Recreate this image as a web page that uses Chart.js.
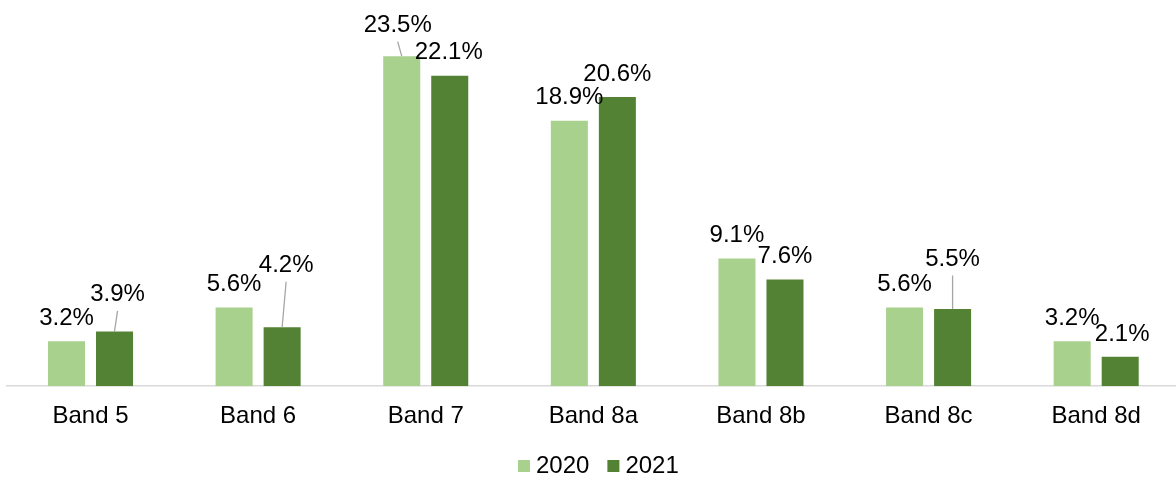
<!DOCTYPE html>
<html><head><meta charset="utf-8">
<script src="https://cdn.jsdelivr.net/npm/chart.js@4/dist/chart.umd.min.js"></script>
<style>
html,body{margin:0;padding:0;background:#fff;overflow:hidden;width:1176px;height:477px}
#wrap{position:absolute;left:0;top:0;width:1180px;height:477px}
</style>
</head><body><div id="wrap"><canvas id="c"></canvas></div>
<script>
// ---- data ----
const categories = ['Band 5','Band 6','Band 7','Band 8a','Band 8b','Band 8c','Band 8d'];
const seriesNames = ['2020','2021'];
const values2020 = [3.2, 5.6, 23.5, 18.9, 9.1, 5.6, 3.2];
const values2021 = [3.9, 4.2, 22.1, 20.6, 7.6, 5.5, 2.1];

// ---- label placement (offsets from default position above each bar) ----
const labelShift = [
  [[0,0],[0,0],[-4,-8],[0,0],[0,0],[0,0],[0,0]],
  [[3,-14],[4,-39],[-1,0],[0,0],[0,0],[0,-27],[2,1]]
];
const leaderOn = [
  [false,false,true,false,false,false,false],
  [true,true,false,false,false,true,false]
];

const FONT = "'Liberation Sans', Arial, sans-serif";
const colors = ['#A9D18E', '#548235'];

const labelPlugin = {
  id: 'barLabels',
  afterDatasetsDraw(chart) {
    const ctx = chart.ctx;
    ctx.save();
    ctx.font = '24px ' + FONT;
    ctx.textAlign = 'center';
    ctx.textBaseline = 'middle';
    chart.data.datasets.forEach((ds, di) => {
      const meta = chart.getDatasetMeta(di);
      meta.data.forEach((el, i) => {
        const sh = labelShift[di][i];
        const lx = el.x + sh[0];
        const ly = el.y - 23 + sh[1];
        if (leaderOn[di][i]) {
          ctx.strokeStyle = '#A6A6A6';
          ctx.lineWidth = 1.3;
          ctx.beginPath();
          ctx.moveTo(el.x, el.y);
          ctx.lineTo(lx, ly + 16.5);
          ctx.stroke();
        }
        ctx.fillStyle = '#000';
        ctx.fillText(ds.data[i].toFixed(1) + '%', lx, ly);
      });
    });
    // legend
    let x = 518;
    const y = 466;
    chart.data.datasets.forEach((ds, di) => {
      ctx.fillStyle = ds.backgroundColor;
      ctx.fillRect(x, y - 6, 12, 12);
      x += 18;
      ctx.fillStyle = '#000';
      ctx.textAlign = 'left';
      ctx.fillText(ds.label, x, y);
      x += ctx.measureText(ds.label).width + 18;
    });
    ctx.restore();
  }
};

new Chart(document.getElementById('c'), {
  type: 'bar',
  data: {
    labels: categories,
    datasets: [
      { label: seriesNames[0], data: values2020, backgroundColor: colors[0] },
      { label: seriesNames[1], data: values2021, backgroundColor: colors[1] }
    ]
  },
  options: {
    responsive: true,
    maintainAspectRatio: false,
    animation: false,
    devicePixelRatio: 1,
    categoryPercentage: 0.573,
    barPercentage: 0.771,
    layout: { padding: { left: 6.7, right: 0, top: 0, bottom: 31 } },
    plugins: { legend: { display: false }, tooltip: { enabled: false } },
    scales: {
      x: {
        grid: { display: false, drawTicks: false, tickLength: 0 },
        border: { display: true, color: '#D9D9D9', width: 1.5 },
        ticks: { font: { size: 24, family: FONT }, color: '#000', padding: 15.5 }
      },
      y: { display: false, min: 0, max: 27.5 }
    }
  },
  plugins: [labelPlugin]
});
</script>
</body></html>
